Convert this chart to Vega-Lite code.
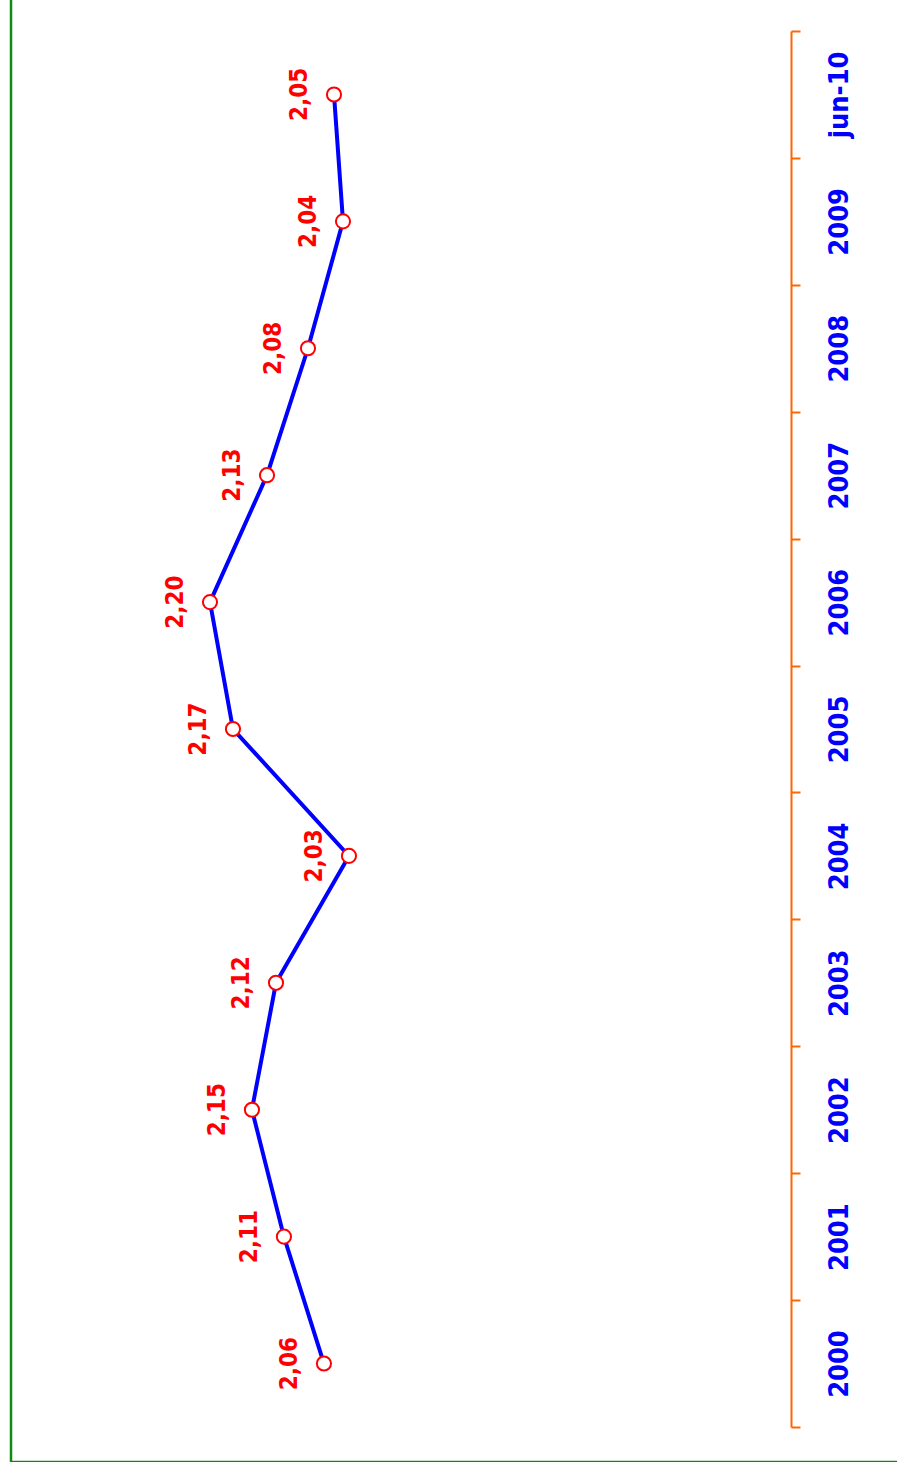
{
  "$schema": "https://vega.github.io/schema/vega-lite/v6.json",
  "width": 900,
  "height": 1472,
  "autosize": {"type": "none"},
  "padding": {"left": 11, "top": -10, "right": 0, "bottom": 0},
  "background": "white",
  "config": {
    "view": {"stroke": "#108a10", "strokeWidth": 2.5},
    "locale": {"number": {"decimal": ",", "thousands": ".", "grouping": [3], "currency": ["", ""]}}
  },
  "data": {
    "values": [
      {"period": "2000", "value": 2.0606},
      {"period": "2001", "value": 2.1095},
      {"period": "2002", "value": 2.1486},
      {"period": "2003", "value": 2.1192},
      {"period": "2004", "value": 2.03},
      {"period": "2005", "value": 2.1718},
      {"period": "2006", "value": 2.1999},
      {"period": "2007", "value": 2.1302},
      {"period": "2008", "value": 2.0801},
      {"period": "2009", "value": 2.0373},
      {"period": "jun-10", "value": 2.0483}
    ]
  },
  "encoding": {
    "y": {
      "field": "period",
      "type": "ordinal",
      "sort": "descending",
      "scale": {"range": [41, 1437], "paddingInner": 0, "paddingOuter": 0},
      "axis": {
        "orient": "right",
        "offset": -120,
        "title": null,
        "tickBand": "extent",
        "domainColor": "#ff6600",
        "domainWidth": 2,
        "tickColor": "#ff6600",
        "tickWidth": 2,
        "tickSize": 9,
        "labelAngle": 270,
        "labelColor": "#0000ff",
        "labelFont": "DejaVu Sans Condensed",
        "labelFontWeight": "bold",
        "labelFontSize": 27,
        "labelPadding": 26
      }
    },
    "x": {
      "field": "value",
      "type": "quantitative",
      "scale": {"domain": [1.9, 2.3], "range": [444.3, 117.1], "nice": false, "zero": false},
      "axis": null
    }
  },
  "layer": [
    {"mark": {"type": "line", "color": "#0000ff", "strokeWidth": 4}},
    {"mark": {"type": "point", "filled": true, "fill": "white", "stroke": "#ff0000", "strokeWidth": 2, "size": 200, "opacity": 1}},
    {
      "mark": {"type": "text", "color": "#ff0000", "font": "DejaVu Sans Condensed", "fontWeight": "bold", "fontSize": 24, "angle": 270, "align": "center", "baseline": "alphabetic", "dy": -27},
      "encoding": {"text": {"field": "value", "type": "quantitative", "format": ".2f"}}
    }
  ]
}
